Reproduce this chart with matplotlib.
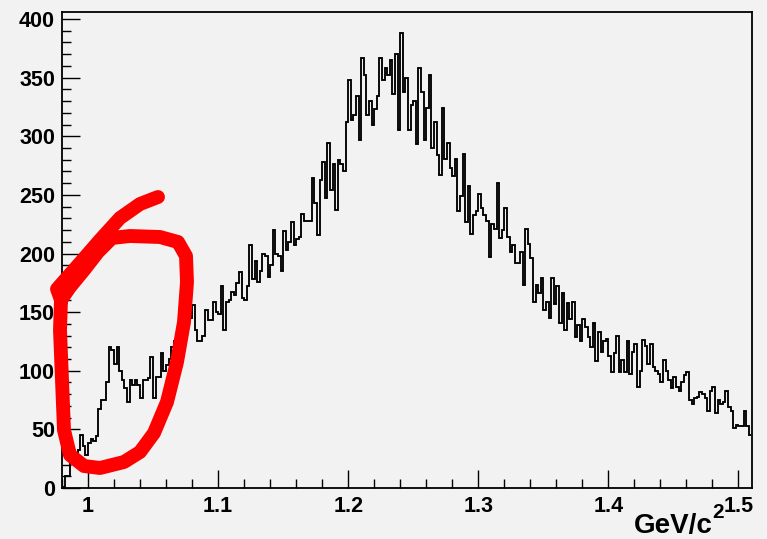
import numpy as np
import matplotlib
matplotlib.use("Agg")
import matplotlib.pyplot as plt
from matplotlib.lines import Line2D
from matplotlib.transforms import Affine2D
from matplotlib.ticker import MultipleLocator, FuncFormatter

# ---- data ----
x_min = 0.98
bin_width = 0.002
counts_a = [1, 10, 10, 25, 32, 28, 32, 45, 36, 28, 38, 42, 40, 44, 67, 75, 75, 90, 120, 118,
            106, 120, 100, 92, 85, 73, 92, 88, 92, 88, 77, 92, 92, 94, 112, 77, 95, 95, 115, 100,
            105, 110, 120, 125, 118, 130, 135, 140, 148, 145, 156, 135, 125]
counts_b = [125, 130, 152, 143, 143, 159, 150, 148, 172, 135, 159, 160, 167, 165, 175, 184, 162, 160,
            172, 207, 178, 194, 176, 185, 200, 198, 180, 190, 220, 200, 198, 185, 219, 203, 210, 227,
            207, 212, 214, 234, 228, 228, 228, 264, 243, 216, 263, 278, 247, 294, 254, 276, 237]
counts_c = [280, 276, 270, 312, 348, 314, 318, 334, 297, 367, 352, 318, 330, 310, 323, 334, 367, 348,
            358, 352, 365, 336, 370, 305, 388, 338, 350, 305, 327, 330, 293, 358, 338, 297, 324, 352,
            290, 312, 284, 267, 324, 281, 294, 273, 266, 281, 236, 249, 285, 227, 258, 217, 233]
counts_d = [236, 251, 239, 233, 228, 197, 225, 221, 260, 213, 220, 239, 214, 201, 207, 192, 192, 201,
            173, 221, 208, 196, 159, 173, 166, 179, 152, 159, 145, 179, 157, 172, 141, 166, 135, 158,
            144, 159, 129, 139, 125, 144, 137, 129, 120, 141, 108, 133, 116, 125, 127, 113, 99, 115]
counts_e = [130, 99, 109, 99, 125, 97, 116, 123, 86, 100, 126, 121, 106, 123, 103, 100, 97, 90, 109,
            100, 92, 85, 95, 86, 83, 90, 96, 99, 75, 72, 77, 78, 82, 80, 77, 66, 83, 86, 64, 75, 72,
            73, 83, 69, 66, 51, 54, 53, 53, 66, 53, 45]
x_ticks = [1.0, 1.1, 1.2, 1.3, 1.4, 1.5]
y_ticks = [0, 50, 100, 150, 200, 250, 300, 350, 400]
x_label = "GeV/c"
x_label_sup = "2"

# hand-drawn red annotation (figure pixel coordinates)
annotation_px = [(158, 197), (140, 204), (120, 218), (100, 240), (80, 263), (57, 289),
                 (61, 300), (60, 330), (62, 380), (64, 430), (70, 455), (84, 466), (100, 468),
                 (124, 462), (140, 452), (154, 433), (167, 402), (177, 362), (184, 322),
                 (187, 282), (186, 256), (178, 242), (160, 237), (130, 236), (112, 238),
                 (98, 252), (84, 270), (70, 287), (61, 300)]

counts = np.array(counts_a + counts_b + counts_c + counts_d + counts_e, dtype=float)
edges = x_min + bin_width * np.arange(len(counts) + 1)

W, H = 767, 539
bg = "#f2f2f2"
plt.rcParams["font.family"] = ["Liberation Sans", "DejaVu Sans"]
fig = plt.figure(figsize=(W / 100, H / 100), dpi=100, facecolor=bg)
ax = fig.add_axes([62 / W, (H - 488) / H, (752 - 62) / W, (488 - 12) / H], facecolor=bg)

ax.stairs(counts, edges, color="black", lw=1.35, baseline=None)
ax.set_xlim(0.98, 1.5104)
ax.set_ylim(0, 406)

ax.set_xticks(x_ticks)
ax.set_yticks(y_ticks)
ax.xaxis.set_minor_locator(MultipleLocator(0.02))
ax.yaxis.set_minor_locator(MultipleLocator(10))
ax.xaxis.set_major_formatter(FuncFormatter(lambda v, p: f"{v:g}"))
ax.yaxis.set_major_formatter(FuncFormatter(lambda v, p: f"{v:g}"))
ax.tick_params(which="both", direction="in", top=False, right=False, width=1.0, color="black")
ax.tick_params(which="major", length=13)
ax.tick_params(which="minor", length=6.5)
ax.tick_params(axis="y", which="major", pad=5, labelsize=15.5)
ax.tick_params(axis="x", which="major", pad=6, labelsize=15.5)
for lab in ax.get_xticklabels() + ax.get_yticklabels():
    lab.set_fontweight("bold")
for s in ax.spines.values():
    s.set_linewidth(1.3)

px = Affine2D().scale(1 / W, -1 / H).translate(0, 1) + fig.transFigure
fig.text(713, 533, x_label, transform=px, ha="right", va="baseline",
         fontsize=20, fontweight="bold")
fig.text(712, 518, x_label_sup, transform=px, ha="left", va="baseline",
         fontsize=15, fontweight="bold")

xs, ys = zip(*annotation_px)
fig.add_artist(Line2D(xs, ys, transform=px, color="#ff0000", lw=10,
                      solid_capstyle="round", solid_joinstyle="round"))

fig.savefig("out.png", dpi=100, facecolor=bg)
